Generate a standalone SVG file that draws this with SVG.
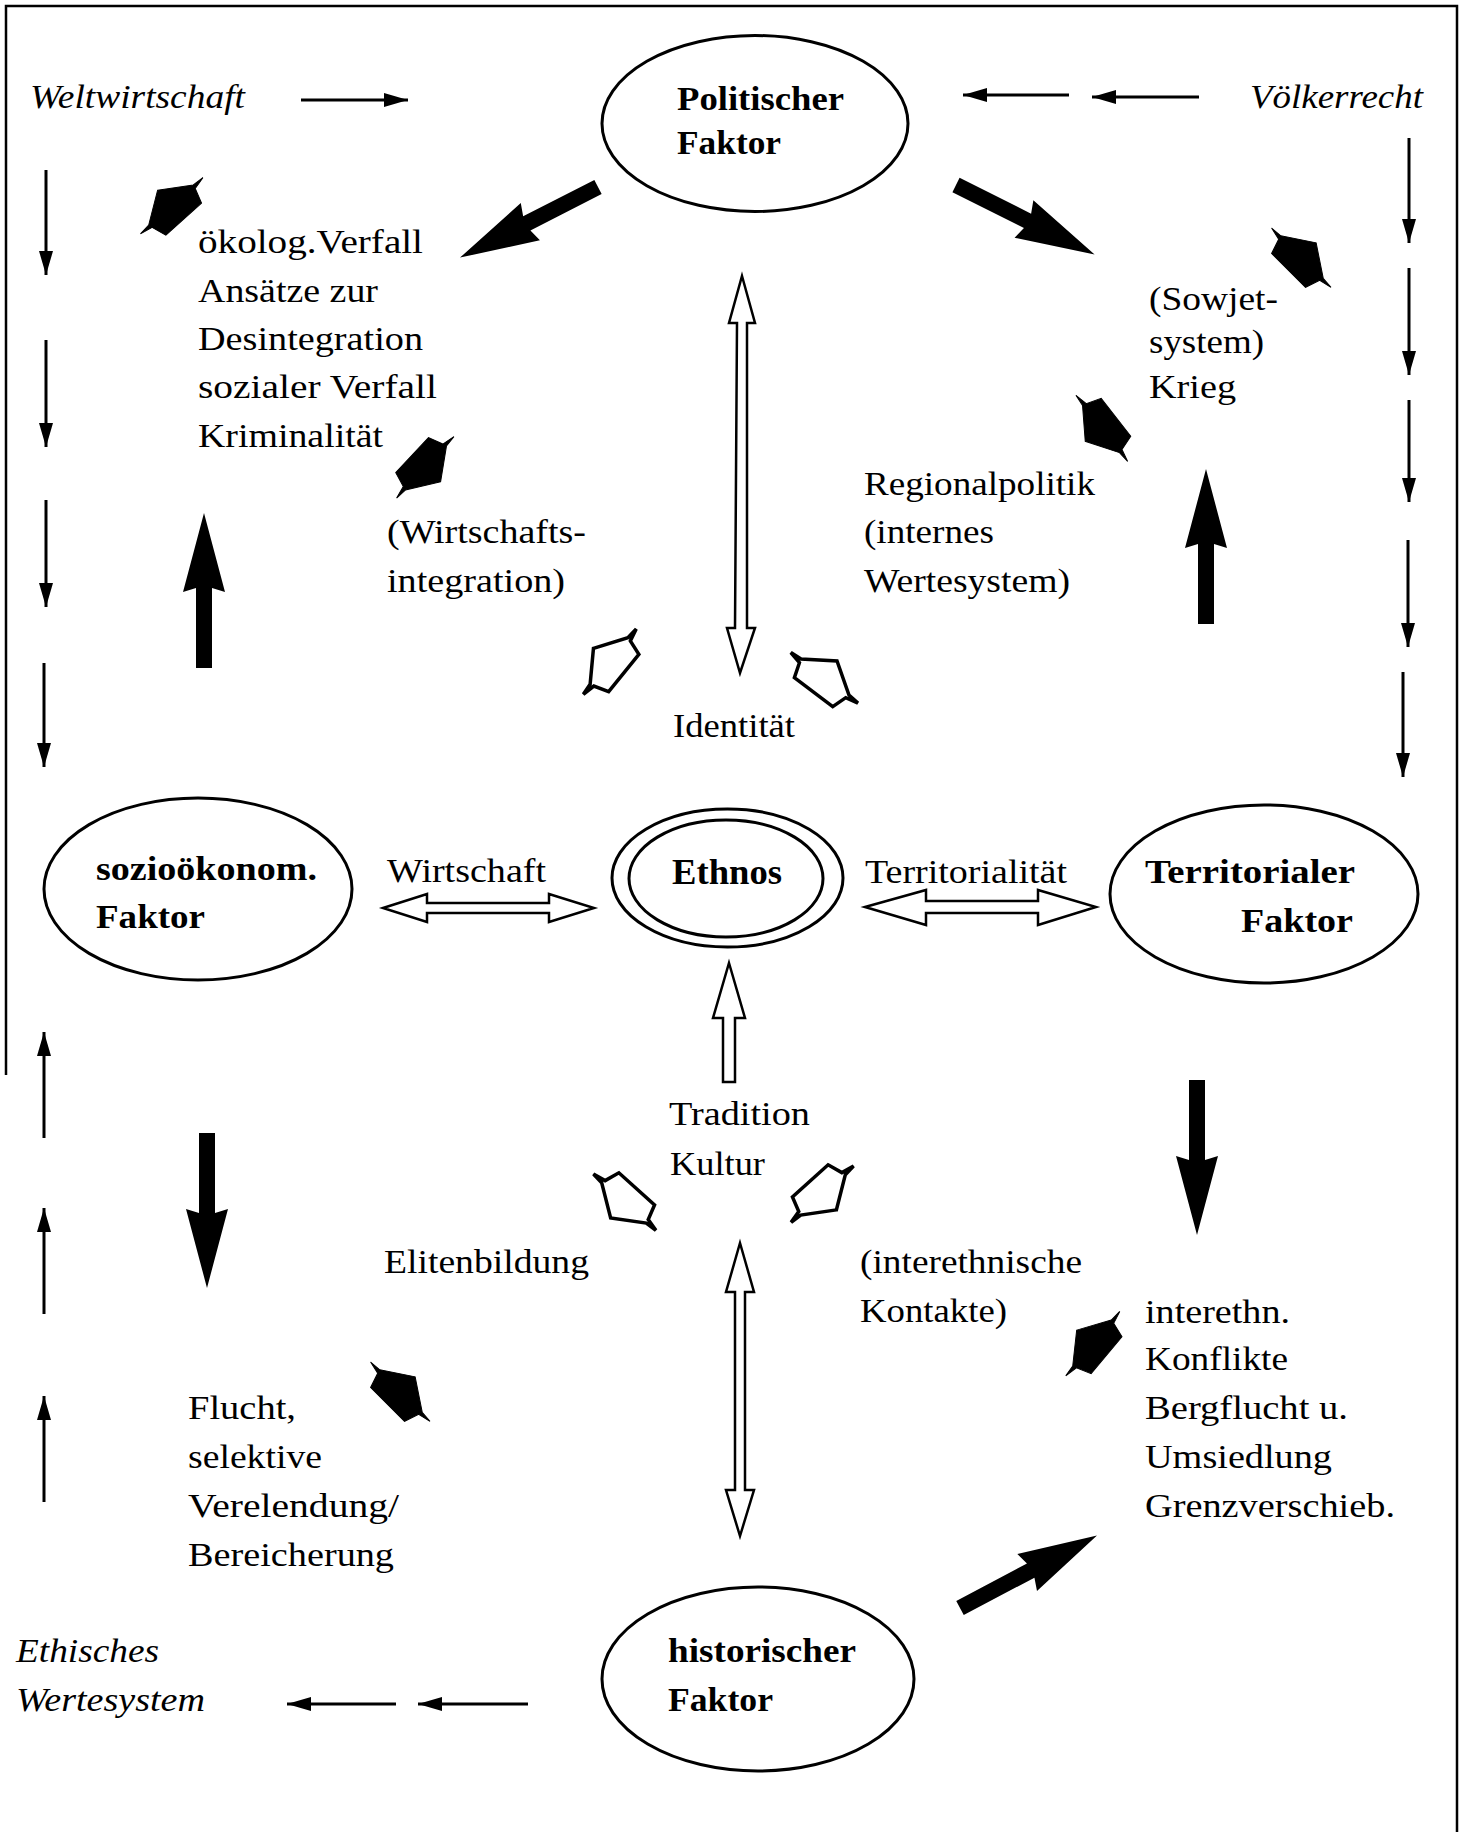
<svg xmlns="http://www.w3.org/2000/svg" xmlns:xlink="http://www.w3.org/1999/xlink" width="1464" height="1832" viewBox="0 0 1464 1832">
<style>
.t{font-family:"Liberation Serif","Times New Roman",serif;font-size:33px;fill:#000}
.b{font-weight:bold}
.i{font-style:italic}
.e{font-size:35px}
.node{fill:none;stroke:#000;stroke-width:3}
.thin{stroke:#000;stroke-width:3;fill:none}
.hollow{fill:#fff;stroke:#000;stroke-width:2.5;stroke-linejoin:miter}
.pf{fill:#000;stroke:#000;stroke-width:1}
.ph{fill:#fff;stroke:#000;stroke-width:3.5}
.frame{stroke:#000;stroke-width:2.5;fill:none}
</style>
<defs>
<marker id="ah" viewBox="0 0 24 14" refX="24" refY="7" markerWidth="24" markerHeight="14" orient="auto" markerUnits="userSpaceOnUse">
<path d="M0,0 L24,7 L0,14 Z" fill="#000"/>
</marker>
<path id="thick" d="M0,-8 L80,-8 L76,-21 L155,0 L76,21 L80,8 L0,8 Z" fill="#000"/>
<path id="pent" d="M20,0 L0,30 L-1,42 L-4,29 L-19,24 L-19,-24 L-4,-29 L-1,-42 L0,-30 Z"/>
</defs>
<rect width="1464" height="1832" fill="#fff"/>
<g id="frame">
<path class="frame" d="M6,1075 L6,6 L1457,6 L1457,1832"/>
</g>
<g id="connectors">
<line class="thin" x1="301" y1="100" x2="408" y2="100" marker-end="url(#ah)"/>
<line class="thin" x1="1069" y1="95" x2="963" y2="95" marker-end="url(#ah)"/>
<line class="thin" x1="1199" y1="97" x2="1092" y2="97" marker-end="url(#ah)"/>
<line class="thin" x1="46" y1="170" x2="46" y2="275" marker-end="url(#ah)"/>
<line class="thin" x1="46" y1="340" x2="46" y2="447" marker-end="url(#ah)"/>
<line class="thin" x1="46" y1="500" x2="46" y2="607" marker-end="url(#ah)"/>
<line class="thin" x1="44" y1="663" x2="44" y2="767" marker-end="url(#ah)"/>
<line class="thin" x1="1409" y1="138" x2="1409" y2="243" marker-end="url(#ah)"/>
<line class="thin" x1="1409" y1="268" x2="1409" y2="375" marker-end="url(#ah)"/>
<line class="thin" x1="1409" y1="400" x2="1409" y2="502" marker-end="url(#ah)"/>
<line class="thin" x1="1408" y1="540" x2="1408" y2="647" marker-end="url(#ah)"/>
<line class="thin" x1="1403" y1="672" x2="1403" y2="777" marker-end="url(#ah)"/>
<line class="thin" x1="44" y1="1138" x2="44" y2="1032" marker-end="url(#ah)"/>
<line class="thin" x1="44" y1="1314" x2="44" y2="1208" marker-end="url(#ah)"/>
<line class="thin" x1="44" y1="1502" x2="44" y2="1396" marker-end="url(#ah)"/>
<line class="thin" x1="396" y1="1704" x2="287" y2="1704" marker-end="url(#ah)"/>
<line class="thin" x1="528" y1="1704" x2="418" y2="1704" marker-end="url(#ah)"/>
<use xlink:href="#thick" href="#thick" transform="translate(598,187) rotate(152.9)"/>
<use xlink:href="#thick" href="#thick" transform="translate(956,185) rotate(26.6)"/>
<use xlink:href="#thick" href="#thick" transform="translate(204,668) rotate(-90)"/>
<use xlink:href="#thick" href="#thick" transform="translate(1206,624) rotate(-90)"/>
<use xlink:href="#thick" href="#thick" transform="translate(207,1133) rotate(90)"/>
<use xlink:href="#thick" href="#thick" transform="translate(1197,1080) rotate(90)"/>
<use xlink:href="#thick" href="#thick" transform="translate(960,1608) rotate(-27.9)"/>
<use xlink:href="#pent" href="#pent" class="pf" transform="translate(171,205) rotate(-132)"/>
<use xlink:href="#pent" href="#pent" class="pf" transform="translate(426,468) rotate(43)"/>
<use xlink:href="#pent" href="#pent" class="pf" transform="translate(1302,257) rotate(-45)"/>
<use xlink:href="#pent" href="#pent" class="pf" transform="translate(1101,429) rotate(142)"/>
<use xlink:href="#pent" href="#pent" class="pf" transform="translate(401,1391) rotate(-45)"/>
<use xlink:href="#pent" href="#pent" class="pf" transform="translate(1092,1343) rotate(-140)"/>
<use xlink:href="#pent" href="#pent" class="ph" transform="translate(609,661) rotate(-141)"/>
<use xlink:href="#pent" href="#pent" class="ph" transform="translate(825,677) rotate(-53)"/>
<use xlink:href="#pent" href="#pent" class="ph" transform="translate(624,1203) rotate(132)"/>
<use xlink:href="#pent" href="#pent" class="ph" transform="translate(823,1195) rotate(48)"/>
<path class="hollow" d="M742,276 L755,323 L747,323 L747,628 L755,628 L740,673 L727,628 L735,628 L737,323 L729,323 Z"/>
<path class="hollow" d="M740,1243 L754,1292 L745,1292 L745,1490 L754,1490 L740,1536 L726,1490 L735,1490 L735,1292 L726,1292 Z"/>
<path class="hollow" d="M729,963 L745,1018 L735,1018 L735,1082 L723,1082 L723,1018 L713,1018 Z"/>
<path class="hollow" d="M383,908 L427,894 L427,903 L549,903 L549,894 L594,908 L549,922 L549,913 L427,913 L427,922 Z"/>
<path class="hollow" d="M865,907 L926,890 L926,901 L1038,901 L1038,890 L1096,907 L1038,925 L1038,913 L926,913 L926,925 Z"/>
</g>
<g id="politischer">
<ellipse class="node" cx="755" cy="123.5" rx="153" ry="88"/>
<text class="t b" x="677" y="110" textLength="167" lengthAdjust="spacingAndGlyphs">Politischer</text>
<text class="t b" x="677" y="154" textLength="104" lengthAdjust="spacingAndGlyphs">Faktor</text>
</g>
<g id="soziooekonom">
<ellipse class="node" cx="198" cy="889" rx="154" ry="91"/>
<text class="t b" x="96" y="880" textLength="221" lengthAdjust="spacingAndGlyphs">sozioökonom.</text>
<text class="t b" x="96" y="928" textLength="109" lengthAdjust="spacingAndGlyphs">Faktor</text>
</g>
<g id="ethnos">
<ellipse class="node" cx="727.5" cy="878" rx="115.5" ry="69"/>
<ellipse class="node" cx="726" cy="878.5" rx="97" ry="58.5"/>
<text class="t b e" x="672" y="884" textLength="110" lengthAdjust="spacingAndGlyphs">Ethnos</text>
</g>
<g id="territorialer">
<ellipse class="node" cx="1264" cy="894" rx="154" ry="89"/>
<text class="t b" x="1145" y="883" textLength="210" lengthAdjust="spacingAndGlyphs">Territorialer</text>
<text class="t b" x="1241" y="932" textLength="112" lengthAdjust="spacingAndGlyphs">Faktor</text>
</g>
<g id="historischer">
<ellipse class="node" cx="758" cy="1679" rx="156" ry="92"/>
<text class="t b" x="668" y="1662" textLength="188" lengthAdjust="spacingAndGlyphs">historischer</text>
<text class="t b" x="668" y="1711" textLength="105" lengthAdjust="spacingAndGlyphs">Faktor</text>
</g>
<g id="weltwirtschaft">
<text class="t i" x="30" y="108" textLength="215" lengthAdjust="spacingAndGlyphs">Weltwirtschaft</text>
</g>
<g id="voelkerrecht">
<text class="t i" x="1250" y="108" textLength="173" lengthAdjust="spacingAndGlyphs">Völkerrecht</text>
</g>
<g id="ethisches">
<text class="t i" x="16" y="1662" textLength="143" lengthAdjust="spacingAndGlyphs">Ethisches</text>
<text class="t i" x="16" y="1711" textLength="189" lengthAdjust="spacingAndGlyphs">Wertesystem</text>
</g>
<g id="oekolog">
<text class="t" x="198" y="253" textLength="225" lengthAdjust="spacingAndGlyphs">ökolog.Verfall</text>
<text class="t" x="198" y="302" textLength="180" lengthAdjust="spacingAndGlyphs">Ansätze zur</text>
<text class="t" x="198" y="350" textLength="225" lengthAdjust="spacingAndGlyphs">Desintegration</text>
<text class="t" x="198" y="398" textLength="239" lengthAdjust="spacingAndGlyphs">sozialer Verfall</text>
<text class="t" x="198" y="447" textLength="185" lengthAdjust="spacingAndGlyphs">Kriminalität</text>
</g>
<g id="sowjet">
<text class="t" x="1149" y="310" textLength="129" lengthAdjust="spacingAndGlyphs">(Sowjet-</text>
<text class="t" x="1149" y="353" textLength="115" lengthAdjust="spacingAndGlyphs">system)</text>
<text class="t" x="1149" y="398" textLength="87" lengthAdjust="spacingAndGlyphs">Krieg</text>
</g>
<g id="wirtschaftsintegration">
<text class="t" x="387" y="543" textLength="199" lengthAdjust="spacingAndGlyphs">(Wirtschafts-</text>
<text class="t" x="387" y="592" textLength="178" lengthAdjust="spacingAndGlyphs">integration)</text>
</g>
<g id="regionalpolitik">
<text class="t" x="864" y="495" textLength="231" lengthAdjust="spacingAndGlyphs">Regionalpolitik</text>
<text class="t" x="864" y="543" textLength="130" lengthAdjust="spacingAndGlyphs">(internes</text>
<text class="t" x="864" y="592" textLength="206" lengthAdjust="spacingAndGlyphs">Wertesystem)</text>
</g>
<g id="identitaet">
<text class="t" x="673" y="737" textLength="122" lengthAdjust="spacingAndGlyphs">Identität</text>
</g>
<g id="wirtschaft">
<text class="t" x="387" y="882" textLength="159" lengthAdjust="spacingAndGlyphs">Wirtschaft</text>
</g>
<g id="territorialitaet">
<text class="t" x="865" y="883" textLength="202" lengthAdjust="spacingAndGlyphs">Territorialität</text>
</g>
<g id="tradition">
<text class="t" x="669" y="1125" textLength="141" lengthAdjust="spacingAndGlyphs">Tradition</text>
<text class="t" x="670" y="1175" textLength="95" lengthAdjust="spacingAndGlyphs">Kultur</text>
</g>
<g id="elitenbildung">
<text class="t" x="384" y="1273" textLength="205" lengthAdjust="spacingAndGlyphs">Elitenbildung</text>
</g>
<g id="kontakte">
<text class="t" x="860" y="1273" textLength="222" lengthAdjust="spacingAndGlyphs">(interethnische</text>
<text class="t" x="860" y="1322" textLength="147" lengthAdjust="spacingAndGlyphs">Kontakte)</text>
</g>
<g id="konflikte">
<text class="t" x="1145" y="1323" textLength="145" lengthAdjust="spacingAndGlyphs">interethn.</text>
<text class="t" x="1145" y="1370" textLength="143" lengthAdjust="spacingAndGlyphs">Konflikte</text>
<text class="t" x="1145" y="1419" textLength="203" lengthAdjust="spacingAndGlyphs">Bergflucht u.</text>
<text class="t" x="1145" y="1468" textLength="187" lengthAdjust="spacingAndGlyphs">Umsiedlung</text>
<text class="t" x="1145" y="1517" textLength="250" lengthAdjust="spacingAndGlyphs">Grenzverschieb.</text>
</g>
<g id="flucht">
<text class="t" x="188" y="1419" textLength="108" lengthAdjust="spacingAndGlyphs">Flucht,</text>
<text class="t" x="188" y="1468" textLength="134" lengthAdjust="spacingAndGlyphs">selektive</text>
<text class="t" x="188" y="1517" textLength="211" lengthAdjust="spacingAndGlyphs">Verelendung/</text>
<text class="t" x="188" y="1566" textLength="206" lengthAdjust="spacingAndGlyphs">Bereicherung</text>
</g>
</svg>
